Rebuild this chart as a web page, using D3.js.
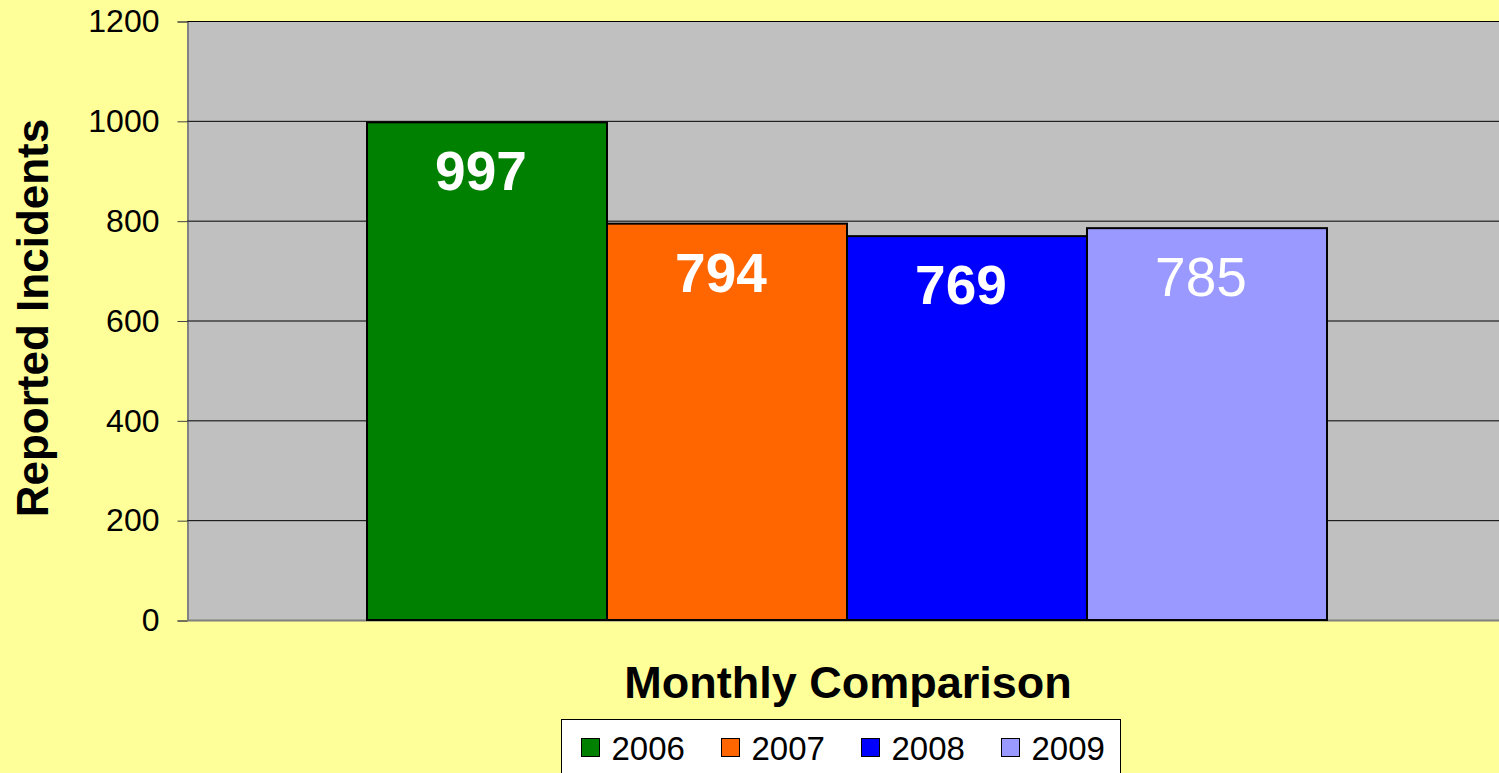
<!DOCTYPE html>
<html>
<head>
<meta charset="utf-8">
<script src="https://cdn.jsdelivr.net/npm/d3@7"></script>
<style>
  html, body { margin: 0; padding: 0; background: #ffff99; overflow: hidden; }
  text { font-family: "Liberation Sans", Arial, sans-serif; }
</style>
</head>
<body>
<div id="canvas"></div>
<script>
// chart values
var categories = ['Monthly Comparison'];
var years = ['2006', '2007', '2008', '2009'];
var values = [997, 794, 769, 785];
var yTicks = [0, 200, 400, 600, 800, 1000, 1200];
var colors = ['#008000', '#ff6600', '#0000ff', '#9999ff'];
var labelWeights = ['bold', 'bold', 'bold', 'normal'];

window.onload = (function () {
    var W = 1499, H = 773;
    var plot = {left: 187, right: 1507, top: 21, bottom: 620};

    var svg = d3.select('#canvas').append('svg')
        .attr('width', W).attr('height', H);

    svg.append('rect').attr('width', W).attr('height', H).attr('fill', '#ffff99');

    var x0 = d3.scaleBand().domain(categories)
        .range([plot.left, plot.right])
        .paddingInner(0).paddingOuter(0.1875);
    var x1 = d3.scaleBand().domain(years).range([0, x0.bandwidth()]);
    var y = d3.scaleLinear().domain([0, 1200]).range([plot.bottom, plot.top]);

    // grey plot area
    svg.append('rect')
        .attr('x', plot.left).attr('y', plot.top)
        .attr('width', plot.right - plot.left).attr('height', plot.bottom - plot.top)
        .attr('fill', '#c0c0c0');

    // gridlines
    svg.append('g').selectAll('line').data(yTicks.slice(1)).enter().append('line')
        .attr('x1', plot.left).attr('x2', plot.right)
        .attr('y1', function (d) { return y(d) + 0.5; })
        .attr('y2', function (d) { return y(d) + 0.5; })
        .attr('stroke', '#000').attr('stroke-width', 1);

    // y axis
    var yAxis = svg.append('g')
        .attr('transform', 'translate(' + (plot.left + 0.5) + ',0.5)')
        .call(d3.axisLeft(y).tickValues(yTicks).tickFormat(d3.format('d'))
            .tickSize(10).tickPadding(18));
    yAxis.select('.domain').attr('stroke', '#444');
    yAxis.selectAll('.tick line').attr('stroke', '#444');
    yAxis.selectAll('.tick text')
        .attr('font-size', 32).attr('fill', '#000')
        .attr('font-family', '"Liberation Sans", Arial, sans-serif');

    // bottom edge of plot
    svg.append('line')
        .attr('x1', plot.left).attr('x2', plot.right)
        .attr('y1', plot.bottom + 0.5).attr('y2', plot.bottom + 0.5)
        .attr('stroke', '#808080').attr('stroke-width', 2);

    // bars
    var groups = svg.append('g').selectAll('g').data(categories).enter().append('g')
        .attr('transform', function (d) { return 'translate(' + x0(d) + ',0)'; });

    groups.selectAll('rect').data(values).enter().append('rect')
        .attr('x', function (d, i) { return x1(years[i]); })
        .attr('y', function (d) { return y(d); })
        .attr('width', x1.bandwidth())
        .attr('height', function (d) { return y(0) - y(d); })
        .attr('fill', function (d, i) { return colors[i]; })
        .attr('stroke', '#000').attr('stroke-width', 2);

    groups.selectAll('text.val').data(values).enter().append('text')
        .attr('class', 'val')
        .attr('x', function (d, i) { return x1(years[i]) + x1.bandwidth() / 2 - 6; })
        .attr('y', function (d) { return y(d) + 68; })
        .attr('text-anchor', 'middle')
        .attr('font-size', 55)
        .attr('font-weight', function (d, i) { return labelWeights[i]; })
        .attr('fill', '#fff')
        .text(function (d) { return d; });

    // axis titles
    svg.append('text')
        .attr('transform', 'translate(48,' + 318 + ') rotate(-90)')
        .attr('text-anchor', 'middle')
        .attr('font-size', 44).attr('font-weight', 'bold')
        .text('Reported Incidents');

    svg.append('text')
        .attr('x', x0(categories[0]) + x0.bandwidth() / 2 + 1)
        .attr('y', 698)
        .attr('text-anchor', 'middle')
        .attr('font-size', 45).attr('font-weight', 'bold')
        .text(categories[0]);

    // legend
    var legend = svg.append('g').attr('transform', 'translate(561.5,719.5)');
    legend.append('rect')
        .attr('width', 559).attr('height', 70)
        .attr('fill', '#fff').attr('stroke', '#000').attr('stroke-width', 1);
    var items = legend.selectAll('g').data(years).enter().append('g')
        .attr('transform', function (d, i) { return 'translate(' + (20 + i * 140) + ',0)'; });
    items.append('rect')
        .attr('y', 19).attr('width', 18).attr('height', 18)
        .attr('fill', function (d, i) { return colors[i]; })
        .attr('stroke', '#000').attr('stroke-width', 1);
    items.append('text')
        .attr('x', 30).attr('y', 40)
        .attr('font-size', 33)
        .text(function (d) { return d; });
}());
</script>
</body>
</html>
